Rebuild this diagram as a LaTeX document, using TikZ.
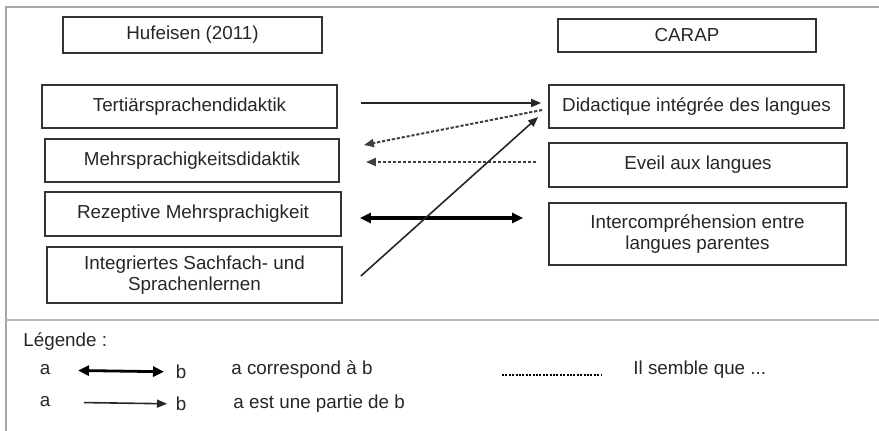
\documentclass[tikz,border=0pt]{standalone}
\usepackage{fontspec}
\setmainfont{Liberation Sans}
\usetikzlibrary{arrows.meta}

\begin{document}
\begin{tikzpicture}[x=.5pt,y=-.5pt,>={Triangle[length=5pt,width=4pt]},
 every node/.style={font=\fontsize{9.4}{10.5}\selectfont,text=black!85,inner sep=0pt},
 bx/.style={draw=black!80,line width=.9pt,inner sep=1pt,align=center},
 part/.style={->,line width=.8pt,draw=black!85},
 seem/.style={->,line width=1pt,draw=black!75,dash pattern=on 1.6pt off .9pt},
 corr/.style={<->,line width=1.6pt,draw=black,>={Triangle[length=5.5pt,width=5pt]}}]
\useasboundingbox (0,0) rectangle (879,431);
% frame
\draw[gray!70,line width=1pt] (5.6,431)--(5.6,7)--(879,7);
\draw[gray!55,line width=1pt] (5.6,320)--(879,320);
% columns
\node[bx,minimum width=129.5pt,minimum height=18pt] (Huf-h) at (192.5,35) {Hufeisen (2011)};
\node[bx,minimum width=129pt,minimum height=16.5pt] (Car-h) at (687,35.5) {CARAP};
\node[bx,minimum width=147.5pt,minimum height=21.5pt] (Huf-t) at (189.5,106.5) {Tertiärsprachendidaktik};
\node[bx,minimum width=147pt,minimum height=21.5pt] (Huf-m) at (192,160.5) {Mehrsprachigkeitsdidaktik};
\node[bx,minimum width=148pt,minimum height=22pt] (Huf-r) at (193,214) {Rezeptive Mehrsprachigkeit};
\node[bx,minimum width=147.5pt,minimum height=28pt] (Huf-i) at (194.5,275) {Integriertes Sachfach- und\\Sprachenlernen};
\node[bx,minimum width=147.5pt,minimum height=21.5pt] (Car-d) at (696.5,106.5) {Didactique intégrée des langues};
\node[bx,minimum width=149pt,minimum height=22pt] (Car-e) at (698,165) {Eveil aux langues};
\node[bx,minimum width=148.5pt,minimum height=31pt] (Car-i) at (697.5,234) {Intercompréhension entre\\langues parentes};
% links
\draw[part] ([shift={(23,-3.5)}]Huf-t.east)--([shift={(-7,-3.5)}]Car-d.west);
\draw[seem] ([shift={(-6,3.5)}]Car-d.west)--([shift={(24,-15.5)}]Huf-m.east);
\draw[seem] ([shift={(-12,-3)}]Car-e.west)--([shift={(26,1.5)}]Huf-m.east);
\draw[corr] ([shift={(18,4)}]Huf-r.east)--([shift={(-25,-16)}]Car-i.west);
\draw[part] ([shift={(18,1)}]Huf-i.east)--([shift={(-10,10.5)}]Car-d.west);
% legend
\node[anchor=west] (Leg-t) at (23,342) {Légende :};
\node (Leg-a1) at (45,370) {a};\node (Leg-b1) at (181,372) {b};
\node (Leg-a2) at (45,402) {a};\node (Leg-b2) at (181,404) {b};
\draw[corr,line width=1.4pt] (Leg-a1.center)--(Leg-b1.center) [shorten <=16.5pt,shorten >=8.5pt];
\draw[part] (Leg-a2.center)--(Leg-b2.center) [shorten <=19.5pt,shorten >=7pt];
\node[anchor=west] (Leg-c) at (231,370) {a correspond à b};
\node[anchor=west] (Leg-p) at (233,404) {a est une partie de b};
\coordinate (Leg-d0) at (502,375);\coordinate (Leg-d1) at (601,375);
\draw[line width=.6pt,dash pattern=on 1pt off .7pt] (Leg-d0)--(Leg-d1);
\node[anchor=west] (Leg-s) at (633,370) {Il semble que ...};
\end{tikzpicture}
\end{document}
